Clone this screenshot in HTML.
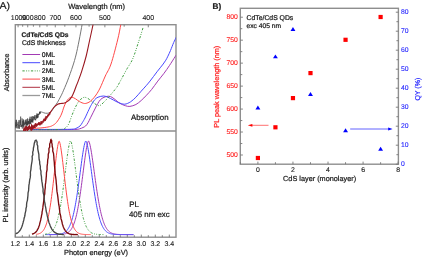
<!DOCTYPE html>
<html><head><meta charset="utf-8"><style>
html,body{margin:0;padding:0;background:#fff;width:423px;height:257px;overflow:hidden}
svg{display:block;font-family:"Liberation Sans",sans-serif;will-change:transform;text-rendering:geometricPrecision}
</style></head><body>
<svg width="423" height="257" viewBox="0 0 423 257">
<defs><clipPath id="ca"><rect x="15.3" y="24.7" width="160.7" height="106.3"/></clipPath>
<clipPath id="cp"><rect x="15.3" y="131.0" width="160.7" height="106.2"/></clipPath></defs>
<rect width="423" height="257" fill="#fff"/>
<g fill="none" stroke="#8e8e8e" stroke-width="1.4">
<rect x="15.3" y="24.7" width="160.7" height="212.5"/>
<line x1="15.3" y1="131.0" x2="176.0" y2="131.0" stroke-width="1.6"/>
</g>
<path d="M15.30,237.20V234.60M22.30,237.20V235.20M29.30,237.20V234.60M36.30,237.20V235.20M43.30,237.20V234.60M50.30,237.20V235.20M57.30,237.20V234.60M64.30,237.20V235.20M71.30,237.20V234.60M78.30,237.20V235.20M85.30,237.20V234.60M92.30,237.20V235.20M99.30,237.20V234.60M106.30,237.20V235.20M113.30,237.20V234.60M120.30,237.20V235.20M127.30,237.20V234.60M134.30,237.20V235.20M141.30,237.20V234.60M148.30,237.20V235.20M155.30,237.20V234.60M162.30,237.20V235.20M169.30,237.20V234.60M148.27,24.70V27.30M124.16,24.70V26.70M104.88,24.70V27.30M89.10,24.70V26.70M75.95,24.70V27.30M64.82,24.70V26.70M55.28,24.70V27.30M47.02,24.70V26.70M39.79,24.70V27.30M33.40,24.70V26.70M27.73,24.70V27.30M22.66,24.70V26.70M18.09,24.70V27.30" stroke="#777" stroke-width="0.9" fill="none"/>
<g clip-path="url(#ca)" fill="none" stroke-width="1" stroke-linejoin="round">
<path d="M30.00,129.60 C35.00,129.60 52.33,129.63 60.00,129.60 C67.67,129.57 72.67,129.55 76.00,129.40 C79.33,129.25 78.83,129.02 80.00,128.70 C81.17,128.38 82.07,127.95 83.00,127.50 C83.93,127.05 84.77,126.78 85.60,126.00 C86.43,125.22 87.18,124.17 88.00,122.80 C88.82,121.43 89.67,119.47 90.50,117.80 C91.33,116.13 92.18,114.43 93.00,112.80 C93.82,111.17 94.60,109.55 95.40,108.00 C96.20,106.45 96.98,104.87 97.80,103.50 C98.62,102.13 99.27,100.83 100.30,99.80 C101.33,98.77 102.63,97.90 104.00,97.30 C105.37,96.70 107.17,96.20 108.50,96.20 C109.83,96.20 110.75,96.62 112.00,97.30 C113.25,97.98 114.67,99.28 116.00,100.30 C117.33,101.32 118.45,102.50 120.00,103.40 C121.55,104.30 123.65,105.20 125.30,105.70 C126.95,106.20 128.13,106.60 129.90,106.40 C131.67,106.20 134.02,105.48 135.90,104.50 C137.78,103.52 139.43,102.05 141.20,100.50 C142.97,98.95 144.77,97.03 146.50,95.20 C148.23,93.37 149.72,91.85 151.60,89.50 C153.48,87.15 155.73,83.80 157.80,81.10 C159.87,78.40 162.07,75.88 164.00,73.30 C165.93,70.72 167.58,68.32 169.40,65.60 C171.22,62.88 173.80,58.72 174.90,57.00 C176.00,55.28 175.57,55.97 176.00,55.30 C176.43,54.63 177.25,53.38 177.50,53.00" stroke="#a23ab4"/>
<path d="M30.00,129.40 C35.00,129.40 53.00,129.43 60.00,129.40 C67.00,129.37 69.33,129.37 72.00,129.20 C74.67,129.03 74.67,128.93 76.00,128.40 C77.33,127.87 78.95,126.95 80.00,126.00 C81.05,125.05 81.47,124.03 82.30,122.70 C83.13,121.37 83.90,120.18 85.00,118.00 C86.10,115.82 87.82,111.85 88.90,109.60 C89.98,107.35 90.55,106.13 91.50,104.50 C92.45,102.87 93.52,101.02 94.60,99.80 C95.68,98.58 96.50,97.83 98.00,97.20 C99.50,96.57 101.93,95.98 103.60,96.00 C105.27,96.02 106.37,96.63 108.00,97.30 C109.63,97.97 111.65,99.12 113.40,100.00 C115.15,100.88 116.63,101.90 118.50,102.60 C120.37,103.30 122.58,104.33 124.60,104.20 C126.62,104.07 128.72,102.97 130.60,101.80 C132.48,100.63 134.13,98.97 135.90,97.20 C137.67,95.43 139.43,93.18 141.20,91.20 C142.97,89.22 145.03,86.98 146.50,85.30 C147.97,83.62 148.83,82.57 150.00,81.10 C151.17,79.63 152.33,78.05 153.50,76.50 C154.67,74.95 155.88,73.25 157.00,71.80 C158.12,70.35 159.17,69.10 160.20,67.80 C161.23,66.50 162.27,65.27 163.20,64.00 C164.13,62.73 165.02,61.50 165.80,60.20 C166.58,58.90 167.12,57.82 167.90,56.20 C168.68,54.58 169.53,52.78 170.50,50.50 C171.47,48.22 172.78,44.62 173.70,42.50 C174.62,40.38 175.37,39.05 176.00,37.80 C176.63,36.55 177.25,35.47 177.50,35.00" stroke="#4848ff"/>
<path d="M30.00,129.60 C33.33,129.60 44.67,129.63 50.00,129.60 C55.33,129.57 59.58,129.57 62.00,129.40 C64.42,129.23 63.67,129.08 64.50,128.60 C65.33,128.12 66.20,127.48 67.00,126.50 C67.80,125.52 68.55,124.37 69.30,122.70 C70.05,121.03 70.62,118.78 71.50,116.50 C72.38,114.22 73.48,111.40 74.60,109.00 C75.72,106.60 77.12,103.77 78.20,102.10 C79.28,100.43 80.08,99.80 81.10,99.00 C82.12,98.20 83.15,97.38 84.30,97.30 C85.45,97.22 86.72,97.80 88.00,98.50 C89.28,99.20 90.67,100.50 92.00,101.50 C93.33,102.50 94.72,103.82 96.00,104.50 C97.28,105.18 98.37,106.02 99.70,105.60 C101.03,105.18 102.37,103.58 104.00,102.00 C105.63,100.42 107.62,98.23 109.50,96.10 C111.38,93.97 113.95,90.88 115.30,89.20 C116.65,87.52 116.62,87.62 117.60,86.00 C118.58,84.38 119.63,82.37 121.20,79.50 C122.77,76.63 125.23,71.92 127.00,68.80 C128.77,65.68 130.47,63.47 131.80,60.80 C133.13,58.13 134.00,55.57 135.00,52.80 C136.00,50.03 136.87,47.05 137.80,44.20 C138.73,41.35 139.70,38.55 140.60,35.70 C141.50,32.85 142.77,28.53 143.20,27.10" stroke="#3c9c3c" stroke-dasharray="2.3,1.5,0.9,1.3,0.9,1.6"/>
<path d="M26.00,129.00 C27.17,128.90 30.67,128.57 33.00,128.40 C35.33,128.23 37.50,128.23 40.00,128.00 C42.50,127.77 45.93,127.40 48.00,127.00 C50.07,126.60 51.00,126.35 52.40,125.60 C53.80,124.85 54.97,124.23 56.40,122.50 C57.83,120.77 59.68,117.95 61.00,115.20 C62.32,112.45 63.25,108.50 64.30,106.00 C65.35,103.50 66.40,101.55 67.30,100.20 C68.20,98.85 68.92,98.40 69.70,97.90 C70.48,97.40 71.03,97.05 72.00,97.20 C72.97,97.35 74.25,98.07 75.50,98.80 C76.75,99.53 77.98,100.82 79.50,101.60 C81.02,102.38 83.02,103.40 84.60,103.50 C86.18,103.60 87.77,102.82 89.00,102.20 C90.23,101.58 90.83,101.00 92.00,99.80 C93.17,98.60 94.65,96.97 96.00,95.00 C97.35,93.03 98.55,91.17 100.10,88.00 C101.65,84.83 103.48,80.00 105.30,76.00 C107.12,72.00 108.95,70.00 111.00,64.00 C113.05,58.00 115.97,46.58 117.60,40.00 C119.23,33.42 120.12,28.00 120.80,24.50 C121.48,21.00 121.55,19.92 121.70,19.00" stroke="#ff4848"/>
<path d="M15.53,124.43 L15.49,126.72 L15.57,122.38 L15.75,124.51 L15.76,128.24 L15.87,125.86 L15.98,120.09 L16.12,127.64 L16.31,119.97 L16.40,119.79 L16.63,125.91 L16.65,124.84 L16.80,125.87 L17.04,126.10 L17.16,126.56 L17.26,128.45 L17.35,123.80 L17.54,124.48 L17.72,123.43 L17.93,121.87 L18.14,122.28 L18.28,125.41 L18.41,124.79 L18.65,128.53 L18.83,124.26 L18.82,122.09 L18.99,120.11 L19.22,126.96 L19.44,128.76 L19.56,125.49 L19.74,126.22 L19.87,122.50 L20.07,121.40 L20.22,122.68 L20.18,119.87 L20.44,124.93 L20.60,118.48 L20.63,116.59 L20.71,120.76 L20.93,127.02 L20.99,124.79 L21.27,125.32 L21.33,125.54 L21.57,125.60 L21.64,126.79 L21.85,125.48 L21.86,126.38 L22.03,118.39 L22.28,119.85 L22.26,128.58 L22.42,124.69 L22.61,125.63 L22.65,121.66 L22.88,122.37 L23.12,120.93 L23.21,126.38 L23.35,119.36 L23.37,123.06 L23.67,127.64 L23.80,120.30 L23.80,120.98 L24.05,125.20 L24.10,124.29 L24.23,123.64 L24.34,122.66 L24.51,123.94 L24.63,125.30 L24.94,124.67 L24.95,121.78 L25.10,121.90 L25.33,121.96 L25.49,123.95 L25.44,119.69 L25.58,123.45 L25.86,121.55 L25.85,124.47 L26.06,129.23 L26.11,123.55 L26.32,121.94 L26.54,122.33 L26.53,125.11 L26.68,119.33 L26.85,124.57 L27.03,126.15 L27.17,121.37 L27.33,123.78 L27.43,124.89 L27.55,118.45 L27.60,122.47 L27.67,124.94 L27.85,123.88 L28.06,122.22 L28.25,124.35 L28.39,121.06 L28.37,123.88 L28.50,121.02 L28.71,122.12 L28.90,123.02 L28.98,122.90 L29.14,119.22 L29.29,124.24 L29.40,122.98 L29.41,121.25 L29.66,118.66 L29.83,119.17 L29.85,124.46 L30.04,116.74 L30.06,123.95 L30.33,121.73 L30.44,121.68 L30.61,123.13 L30.67,123.78 L30.70,119.11 L30.80,122.64 L31.04,123.38 L31.25,119.92 L31.36,116.71 L31.37,121.92 L31.51,120.23 L31.71,121.79 L31.76,120.00 L32.04,122.01 L32.11,118.73 L32.31,121.54 L32.36,116.26 L32.50,121.72 L32.61,119.37 L32.69,119.59 L32.82,122.72 L33.01,119.58 L33.11,119.09 L33.28,117.22 L33.32,116.52 L33.54,118.23 L33.70,119.17 L33.77,120.40 L33.97,116.49 L34.00,117.92 L34.13,117.44 L34.28,117.59 L34.35,116.90 L34.56,119.22 L34.67,117.61 L34.64,115.59 L34.86,115.12 L34.83,117.08 L34.91,119.44 L35.08,119.28 L35.32,120.01 L35.46,118.94 L35.54,119.17 L35.55,119.62 L35.68,120.36 L35.94,115.28 L36.06,116.31 L36.13,118.35 L36.17,118.08 L36.24,118.41 L36.42,117.53 L36.37,118.09 L36.47,115.70 L36.63,116.42 L36.67,115.73 L36.95,115.65 L36.86,117.32 L36.98,113.42 L37.07,118.32 L37.13,116.75 L37.36,113.94 L37.33,117.22 L37.48,117.43 L37.60,117.84 L37.68,116.05 L37.72,115.83 L37.85,117.78 L37.97,116.50 L37.91,117.07 L38.16,116.21 L38.19,114.19 L38.35,115.22 L38.36,114.77 L38.40,115.21 L38.45,115.01 L38.57,114.80 L38.77,114.00 L38.77,114.90 L38.87,113.46 L38.90,113.89 L39.13,113.75 L39.18,113.76 L39.35,113.83 L39.27,114.23 L39.43,113.57 L39.58,112.26 L39.63,112.17 L39.77,113.39 L39.79,111.84 L39.85,113.78 L39.81,111.83 L39.89,112.71 L39.98,113.32 L40.03,112.62 L40.23,113.22 L40.25,112.61 L40.22,111.71 L40.31,112.26 L40.31,112.09 L40.49,112.24" stroke="#3c3c3c" stroke-width="0.6"/>
<path d="M40.40,111.60 C40.75,111.72 41.68,112.03 42.50,112.30 C43.32,112.57 44.22,113.08 45.30,113.20 C46.38,113.32 47.97,113.33 49.00,113.00 C50.03,112.67 50.55,112.28 51.50,111.20 C52.45,110.12 53.70,107.98 54.70,106.50 C55.70,105.02 56.55,103.88 57.50,102.30 C58.45,100.72 59.55,98.63 60.40,97.00 C61.25,95.37 61.42,95.18 62.60,92.50 C63.78,89.82 65.80,85.32 67.50,80.90 C69.20,76.48 71.38,70.32 72.80,66.00 C74.22,61.68 74.97,59.17 76.00,55.00 C77.03,50.83 77.97,46.17 79.00,41.00 C80.03,35.83 81.53,27.67 82.20,24.00 C82.87,20.33 82.87,19.83 83.00,19.00" stroke="#767676"/>
<path d="M23.45,131.88 L23.67,129.65 L23.57,129.43 L23.75,131.25 L23.82,128.14 L23.99,130.15 L24.03,131.01 L24.22,129.85 L24.33,130.08 L24.45,129.82 L24.70,128.15 L24.83,128.74 L24.93,128.99 L25.08,126.67 L25.32,130.37 L25.47,129.43 L25.69,132.09 L25.81,130.16 L25.89,129.11 L26.14,126.76 L26.38,126.61 L26.57,129.16 L26.72,126.65 L26.90,127.67 L26.97,129.14 L27.20,129.39 L27.43,131.04 L27.62,130.53 L27.78,127.47 L27.86,127.40 L28.14,129.45 L28.32,126.64 L28.53,128.43 L28.61,128.24 L28.87,129.51 L28.93,129.00 L29.14,128.27 L29.28,124.94 L29.51,126.47 L29.62,128.60 L29.67,127.98 L29.82,127.85 L30.01,128.15 L30.09,127.06 L30.39,128.97 L30.56,128.35 L30.68,127.45 L30.83,126.93 L31.06,127.17 L31.06,127.82 L31.16,130.43 L31.37,127.16 L31.50,128.81 L31.59,124.55 L31.70,128.03 L31.90,130.01 L32.09,128.07 L32.05,128.20 L32.32,127.60 L32.41,125.67 L32.49,127.14 L32.52,129.22 L32.74,128.02 L32.84,126.63 L32.99,127.18 L33.24,127.24 L33.39,128.23 L33.40,126.28 L33.72,127.75 L33.78,125.31 L34.10,125.24 L34.14,126.73 L34.20,125.15 L34.28,126.71 L34.46,127.42 L34.72,126.93 L34.78,125.66 L34.85,126.44 L35.13,123.69 L35.26,127.37 L35.43,123.86 L35.50,123.69 L35.68,125.25 L35.78,124.94 L35.90,125.22 L36.01,123.68 L36.25,125.55 L36.38,124.79 L36.66,124.48 L36.67,126.45 L36.89,124.38 L37.02,124.09 L37.14,125.01 L37.44,125.15 L37.60,123.92 L37.78,124.54 L37.78,123.97 L37.92,124.56 L38.10,124.12 L38.27,124.61 L38.52,122.46 L38.61,123.33 L38.76,123.12 L38.90,124.57 L39.18,124.61 L39.16,124.14 L39.46,122.55 L39.48,123.70 L39.66,123.57 L39.81,124.23 L40.04,125.11 L40.01,122.96 L40.32,124.66 L40.36,123.55 L40.48,123.19 L40.73,123.10 L40.88,123.77 L40.87,121.49 L41.07,123.21 L41.24,123.05 L41.36,123.86 L41.52,122.11 L41.50,121.50 L41.78,122.65 L41.88,122.48 L41.94,123.94 L42.13,122.51 L42.27,122.43 L42.36,122.13 L42.49,122.00 L42.62,121.30 L42.62,121.96 L42.93,121.25 L42.98,122.19 L43.02,121.93 L43.14,120.65 L43.27,122.20 L43.33,120.71 L43.52,119.81 L43.61,120.78 L43.72,119.86 L43.79,119.16 L44.04,120.05 L44.06,120.94 L44.23,120.54 L44.29,119.02 L44.53,120.55 L44.53,119.74 L44.66,119.94 L44.91,120.72 L44.88,119.06 L45.04,119.37 L45.11,118.42 L45.28,117.74 L45.33,119.39 L45.41,120.56 L45.68,119.35 L45.79,118.88 L45.90,118.28 L45.89,116.25 L46.08,118.83 L46.05,119.45 L46.23,117.69 L46.33,117.35 L46.43,117.74 L46.56,117.61 L46.80,117.72 L46.76,117.20 L47.00,116.46 L47.03,117.83 L47.14,117.46 L47.36,116.89 L47.47,116.73 L47.41,116.89 L47.67,115.38 L47.64,116.63 L47.92,116.13 L47.90,115.84 L48.03,115.63 L48.12,114.36 L48.23,116.06 L48.42,115.02 L48.38,114.90 L48.64,115.31 L48.78,115.42 L48.69,114.29 L48.97,114.58 L49.07,114.96 L49.05,113.98 L49.16,114.39 L49.31,114.30 L49.38,113.77 L49.43,114.16 L49.46,112.94 L49.62,113.39 L49.55,113.89 L49.66,113.65 L49.69,114.04 L49.80,113.80 L49.99,113.26 L49.90,114.09 L49.92,112.09" stroke="#9a1820" stroke-width="1.1"/>
<path d="M50.00,113.00 C50.62,112.08 52.42,108.95 53.70,107.50 C54.98,106.05 56.53,104.97 57.70,104.30 C58.87,103.63 59.57,103.72 60.70,103.50 C61.83,103.28 63.23,103.43 64.50,103.00 C65.77,102.57 67.33,101.60 68.30,100.90 C69.27,100.20 69.65,99.62 70.30,98.80 C70.95,97.98 71.53,97.25 72.20,96.00 C72.87,94.75 73.63,92.97 74.30,91.30 C74.97,89.63 75.63,87.48 76.20,86.00 C76.77,84.52 76.80,84.80 77.70,82.40 C78.60,80.00 80.18,76.00 81.60,71.60 C83.02,67.20 84.85,61.27 86.20,56.00 C87.55,50.73 88.53,45.33 89.70,40.00 C90.87,34.67 92.48,27.50 93.20,24.00 C93.92,20.50 93.87,19.83 94.00,19.00" stroke="#9a1820" stroke-width="1.1"/>
</g>
<g clip-path="url(#cp)" fill="none" stroke-width="1" stroke-linejoin="round">
<path d="M49.00,234.60 L49.40,234.60 L49.80,234.60 L50.20,234.60 L50.60,234.60 L51.00,234.60 L51.40,234.60 L51.80,234.60 L52.20,234.60 L52.60,234.59 L53.00,234.59 L53.40,234.59 L53.80,234.59 L54.20,234.59 L54.60,234.59 L55.00,234.58 L55.40,234.58 L55.80,234.58 L56.20,234.57 L56.60,234.57 L57.00,234.56 L57.40,234.56 L57.80,234.55 L58.20,234.54 L58.60,234.53 L59.00,234.51 L59.40,234.50 L59.80,234.48 L60.20,234.46 L60.60,234.44 L61.00,234.41 L61.40,234.38 L61.80,234.35 L62.20,234.31 L62.60,234.26 L63.00,234.21 L63.40,234.15 L63.80,234.09 L64.20,234.01 L64.60,233.92 L65.00,233.82 L65.40,233.71 L65.80,233.58 L66.20,233.44 L66.60,233.27 L67.00,233.09 L67.40,232.89 L67.80,232.66 L68.20,232.40 L68.60,232.11 L69.00,231.79 L69.40,231.44 L69.80,231.04 L70.20,230.60 L70.60,230.12 L71.00,229.58 L71.40,229.00 L71.80,228.35 L72.20,227.64 L72.60,226.87 L73.00,226.02 L73.40,225.10 L73.80,224.10 L74.20,223.01 L74.60,221.83 L75.00,220.56 L75.40,219.19 L75.80,217.73 L76.20,216.15 L76.60,214.47 L77.00,212.68 L77.40,210.77 L77.80,208.75 L78.20,206.62 L78.60,204.37 L79.00,202.01 L79.40,199.54 L79.80,196.96 L80.20,194.27 L80.60,191.49 L81.00,188.62 L81.40,185.68 L81.80,182.66 L82.20,179.58 L82.60,176.46 L83.00,173.32 L83.40,170.16 L83.80,167.02 L84.20,163.91 L84.60,160.86 L85.00,157.90 L85.40,155.04 L85.80,152.33 L86.20,149.80 L86.60,147.48 L87.00,145.42 L87.40,143.66 L87.80,142.26 L88.20,141.31 L88.60,141.04 L89.00,141.64 L89.40,142.69 L89.80,144.10 L90.20,145.81 L90.60,147.77 L91.00,149.94 L91.40,152.30 L91.80,154.81 L92.20,157.45 L92.60,160.19 L93.00,163.01 L93.40,165.88 L93.80,168.79 L94.20,171.72 L94.60,174.65 L95.00,177.56 L95.40,180.45 L95.80,183.29 L96.20,186.09 L96.60,188.82 L97.00,191.49 L97.40,194.07 L97.80,196.58 L98.20,198.99 L98.60,201.32 L99.00,203.54 L99.40,205.68 L99.80,207.71 L100.20,209.64 L100.60,211.47 L101.00,213.21 L101.40,214.85 L101.80,216.39 L102.20,217.84 L102.60,219.21 L103.00,220.48 L103.40,221.67 L103.80,222.78 L104.20,223.80 L104.60,224.76 L105.00,225.65 L105.40,226.46 L105.80,227.22 L106.20,227.91 L106.60,228.55 L107.00,229.14 L107.40,229.67 L107.80,230.16 L108.20,230.61 L108.60,231.02 L109.00,231.39 L109.40,231.72 L109.80,232.03 L110.20,232.31 L110.60,232.55 L111.00,232.78 L111.40,232.98 L111.80,233.16 L112.20,233.33 L112.60,233.47 L113.00,233.60 L113.40,233.72 L113.80,233.82 L114.20,233.92 L114.60,234.00 L115.00,234.07 L115.40,234.14 L115.80,234.19 L116.20,234.25 L116.60,234.29 L117.00,234.33 L117.40,234.36 L117.80,234.39 L118.20,234.42 L118.60,234.45 L119.00,234.47 L119.40,234.48 L119.80,234.50 L120.20,234.51 L120.60,234.53 L121.00,234.54 L121.40,234.54 L121.80,234.55 L122.20,234.56 L122.60,234.56 L123.00,234.57 L123.40,234.57 L123.80,234.58 L124.20,234.58 L124.60,234.58 L125.00,234.59 L125.40,234.59 L125.80,234.59 L126.20,234.59 L126.60,234.59 L127.00,234.59 L127.40,234.59 L127.80,234.60 L128.20,234.60 L128.60,234.60 L129.00,234.60 L129.40,234.60 L129.80,234.60 L130.20,234.60 L130.60,234.60 L131.00,234.60 L131.40,234.60 L131.80,234.60 L132.20,234.60 L132.60,234.60 L133.00,234.60 L133.40,234.60" stroke="#a23ab4"/>
<path d="M45.00,234.60 L45.40,234.60 L45.80,234.60 L46.20,234.60 L46.60,234.60 L47.00,234.60 L47.40,234.60 L47.80,234.60 L48.20,234.59 L48.60,234.59 L49.00,234.59 L49.40,234.59 L49.80,234.59 L50.20,234.59 L50.60,234.59 L51.00,234.58 L51.40,234.58 L51.80,234.58 L52.20,234.57 L52.60,234.57 L53.00,234.56 L53.40,234.55 L53.80,234.55 L54.20,234.54 L54.60,234.53 L55.00,234.52 L55.40,234.50 L55.80,234.49 L56.20,234.47 L56.60,234.45 L57.00,234.42 L57.40,234.39 L57.80,234.36 L58.20,234.33 L58.60,234.28 L59.00,234.24 L59.40,234.18 L59.80,234.12 L60.20,234.05 L60.60,233.98 L61.00,233.89 L61.40,233.79 L61.80,233.68 L62.20,233.55 L62.60,233.41 L63.00,233.25 L63.40,233.07 L63.80,232.88 L64.20,232.66 L64.60,232.41 L65.00,232.14 L65.40,231.83 L65.80,231.50 L66.20,231.13 L66.60,230.72 L67.00,230.26 L67.40,229.77 L67.80,229.22 L68.20,228.63 L68.60,227.97 L69.00,227.26 L69.40,226.49 L69.80,225.65 L70.20,224.73 L70.60,223.74 L71.00,222.67 L71.40,221.52 L71.80,220.29 L72.20,218.96 L72.60,217.54 L73.00,216.02 L73.40,214.40 L73.80,212.68 L74.20,210.86 L74.60,208.93 L75.00,206.89 L75.40,204.76 L75.80,202.51 L76.20,200.17 L76.60,197.72 L77.00,195.18 L77.40,192.55 L77.80,189.83 L78.20,187.04 L78.60,184.17 L79.00,181.25 L79.40,178.29 L79.80,175.28 L80.20,172.27 L80.60,169.25 L81.00,166.24 L81.40,163.27 L81.80,160.36 L82.20,157.53 L82.60,154.81 L83.00,152.23 L83.40,149.80 L83.80,147.57 L84.20,145.58 L84.60,143.86 L85.00,142.46 L85.40,141.46 L85.80,141.00 L86.20,141.45 L86.60,142.42 L87.00,143.76 L87.40,145.43 L87.80,147.36 L88.20,149.52 L88.60,151.87 L89.00,154.38 L89.40,157.03 L89.80,159.78 L90.20,162.61 L90.60,165.51 L91.00,168.45 L91.40,171.40 L91.80,174.36 L92.20,177.31 L92.60,180.23 L93.00,183.11 L93.40,185.93 L93.80,188.70 L94.20,191.39 L94.60,194.01 L95.00,196.54 L95.40,198.98 L95.80,201.33 L96.20,203.58 L96.60,205.73 L97.00,207.78 L97.40,209.73 L97.80,211.57 L98.20,213.32 L98.60,214.97 L99.00,216.52 L99.40,217.98 L99.80,219.35 L100.20,220.62 L100.60,221.81 L101.00,222.92 L101.40,223.95 L101.80,224.91 L102.20,225.79 L102.60,226.60 L103.00,227.35 L103.40,228.04 L103.80,228.68 L104.20,229.26 L104.60,229.79 L105.00,230.27 L105.40,230.72 L105.80,231.12 L106.20,231.48 L106.60,231.81 L107.00,232.11 L107.40,232.38 L107.80,232.63 L108.20,232.85 L108.60,233.04 L109.00,233.22 L109.40,233.38 L109.80,233.52 L110.20,233.65 L110.60,233.76 L111.00,233.86 L111.40,233.95 L111.80,234.03 L112.20,234.10 L112.60,234.16 L113.00,234.22 L113.40,234.27 L113.80,234.31 L114.20,234.35 L114.60,234.38 L115.00,234.41 L115.40,234.43 L115.80,234.46 L116.20,234.48 L116.60,234.49 L117.00,234.51 L117.40,234.52 L117.80,234.53 L118.20,234.54 L118.60,234.55 L119.00,234.56 L119.40,234.56 L119.80,234.57 L120.20,234.57 L120.60,234.58 L121.00,234.58 L121.40,234.58 L121.80,234.59 L122.20,234.59 L122.60,234.59 L123.00,234.59 L123.40,234.59 L123.80,234.59 L124.20,234.59 L124.60,234.60 L125.00,234.60 L125.40,234.60 L125.80,234.60 L126.20,234.60 L126.60,234.60 L127.00,234.60 L127.40,234.60 L127.80,234.60 L128.20,234.60 L128.60,234.60 L129.00,234.60 L129.40,234.60 L129.80,234.60 L130.20,234.60 L130.60,234.60 L131.00,234.60 L131.40,234.60 L131.80,234.60 L132.20,234.60 L132.60,234.60 L133.00,234.60 L133.40,234.60" stroke="#4848ff"/>
<path d="M45.00,234.28 L45.40,234.23 L45.80,234.18 L46.20,234.11 L46.60,234.03 L47.00,233.95 L47.40,233.85 L47.80,233.74 L48.20,233.61 L48.60,233.47 L49.00,233.30 L49.40,233.12 L49.80,232.91 L50.20,232.68 L50.60,232.42 L51.00,232.13 L51.40,231.81 L51.80,231.44 L52.20,231.04 L52.60,230.59 L53.00,230.09 L53.40,229.55 L53.80,228.94 L54.20,228.27 L54.60,227.54 L55.00,226.74 L55.40,225.86 L55.80,224.90 L56.20,223.86 L56.60,222.72 L57.00,221.50 L57.40,220.17 L57.80,218.74 L58.20,217.20 L58.60,215.55 L59.00,213.79 L59.40,211.91 L59.80,209.92 L60.20,207.80 L60.60,205.56 L61.00,203.20 L61.40,200.73 L61.80,198.14 L62.20,195.44 L62.60,192.64 L63.00,189.74 L63.40,186.75 L63.80,183.68 L64.20,180.55 L64.60,177.37 L65.00,174.15 L65.40,170.92 L65.80,167.70 L66.20,164.50 L66.60,161.36 L67.00,158.30 L67.40,155.36 L67.80,152.56 L68.20,149.93 L68.60,147.53 L69.00,145.39 L69.40,143.56 L69.80,142.11 L70.20,141.12 L70.60,140.85 L71.00,141.52 L71.40,142.71 L71.80,144.31 L72.20,146.23 L72.60,148.43 L73.00,150.87 L73.40,153.50 L73.80,156.29 L74.20,159.21 L74.60,162.23 L75.00,165.31 L75.40,168.45 L75.80,171.61 L76.20,174.76 L76.60,177.90 L77.00,181.01 L77.40,184.07 L77.80,187.06 L78.20,189.98 L78.60,192.81 L79.00,195.55 L79.40,198.18 L79.80,200.72 L80.20,203.14 L80.60,205.45 L81.00,207.64 L81.40,209.73 L81.80,211.69 L82.20,213.54 L82.60,215.28 L83.00,216.92 L83.40,218.44 L83.80,219.86 L84.20,221.18 L84.60,222.41 L85.00,223.54 L85.40,224.59 L85.80,225.55 L86.20,226.44 L86.60,227.25 L87.00,227.99 L87.40,228.67 L87.80,229.29 L88.20,229.85 L88.60,230.36 L89.00,230.82 L89.40,231.24 L89.80,231.61 L90.20,231.95 L90.60,232.25 L91.00,232.53 L91.40,232.77 L91.80,232.99 L92.20,233.18 L92.60,233.35 L93.00,233.51 L93.40,233.64 L93.80,233.76 L94.20,233.87 L94.60,233.96 L95.00,234.05 L95.40,234.12 L95.80,234.18 L96.20,234.24 L96.60,234.29 L97.00,234.33 L97.40,234.37 L97.80,234.40 L98.20,234.43 L98.60,234.45 L99.00,234.47 L99.40,234.49 L99.80,234.51 L100.20,234.52 L100.60,234.53 L101.00,234.54 L101.40,234.55 L101.80,234.56 L102.20,234.56 L102.60,234.57 L103.00,234.57 L103.40,234.58 L103.80,234.58" stroke="#3c9c3c" stroke-dasharray="2.3,1.5,0.9,1.3,0.9,1.6"/>
<path d="M36.00,234.34 L36.40,234.29 L36.80,234.23 L37.20,234.17 L37.60,234.09 L38.00,234.00 L38.40,233.90 L38.80,233.78 L39.20,233.64 L39.60,233.48 L40.00,233.30 L40.40,233.10 L40.80,232.86 L41.20,232.59 L41.60,232.28 L42.00,231.93 L42.40,231.54 L42.80,231.09 L43.20,230.59 L43.60,230.03 L44.00,229.40 L44.40,228.70 L44.80,227.92 L45.20,227.05 L45.60,226.09 L46.00,225.03 L46.40,223.87 L46.80,222.59 L47.20,221.19 L47.60,219.66 L48.00,218.01 L48.40,216.21 L48.80,214.27 L49.20,212.19 L49.60,209.96 L50.00,207.57 L50.40,205.04 L50.80,202.35 L51.20,199.52 L51.60,196.54 L52.00,193.43 L52.40,190.20 L52.80,186.86 L53.20,183.41 L53.60,179.89 L54.00,176.31 L54.40,172.70 L54.80,169.08 L55.20,165.49 L55.60,161.96 L56.00,158.54 L56.40,155.25 L56.80,152.15 L57.20,149.29 L57.60,146.73 L58.00,144.54 L58.40,142.78 L58.80,141.59 L59.20,141.26 L59.60,142.05 L60.00,143.46 L60.40,145.33 L60.80,147.58 L61.20,150.15 L61.60,152.98 L62.00,156.02 L62.40,159.22 L62.80,162.54 L63.20,165.96 L63.60,169.42 L64.00,172.91 L64.40,176.39 L64.80,179.84 L65.20,183.23 L65.60,186.56 L66.00,189.79 L66.40,192.93 L66.80,195.95 L67.20,198.84 L67.60,201.61 L68.00,204.24 L68.40,206.73 L68.80,209.08 L69.20,211.29 L69.60,213.36 L70.00,215.29 L70.40,217.09 L70.80,218.76 L71.20,220.30 L71.60,221.72 L72.00,223.03 L72.40,224.23 L72.80,225.32 L73.20,226.32 L73.60,227.22 L74.00,228.05 L74.40,228.79 L74.80,229.46 L75.20,230.06 L75.60,230.60 L76.00,231.08 L76.40,231.51 L76.80,231.90 L77.20,232.24 L77.60,232.54 L78.00,232.81 L78.40,233.04 L78.80,233.25 L79.20,233.43 L79.60,233.59 L80.00,233.73 L80.40,233.85 L80.80,233.96 L81.20,234.05 L81.60,234.13 L82.00,234.20 L82.40,234.26 L82.80,234.31 L83.20,234.35 L83.60,234.39 L84.00,234.42 L84.40,234.45 L84.80,234.47 L85.20,234.49 L85.60,234.51 L86.00,234.52 L86.40,234.54 L86.80,234.55 L87.20,234.56 L87.60,234.56 L88.00,234.57 L88.40,234.57 L88.80,234.58 L89.20,234.58 L89.60,234.59 L90.00,234.59 L90.40,234.59 L90.80,234.59" stroke="#ff4848"/>
<path d="M31.94,234.10 L32.33,234.02 L32.56,233.92 L32.92,233.89 L33.24,233.83 L33.52,233.53 L33.85,233.43 L34.11,233.30 L34.44,233.08 L34.66,232.90 L34.95,232.84 L35.31,232.46 L35.58,232.36 L35.90,231.86 L36.25,231.63 L36.58,231.11 L36.80,230.89 L37.16,230.46 L37.32,229.79 L37.63,229.20 L38.08,228.71 L38.38,227.97 L38.67,227.27 L38.85,226.57 L39.29,225.48 L39.52,224.71 L39.74,223.59 L40.02,222.42 L40.35,221.36 L40.73,219.92 L40.89,218.58 L41.34,217.02 L41.55,215.43 L41.98,213.87 L42.08,211.86 L42.47,210.14 L42.84,207.88 L43.00,206.03 L43.37,203.55 L43.64,201.55 L43.93,198.85 L44.25,196.17 L44.74,193.84 L44.85,190.55 L45.29,187.67 L45.29,185.21 L45.77,182.14 L46.06,179.12 L46.38,175.44 L46.46,172.60 L47.07,169.76 L47.08,166.37 L47.53,163.15 L47.70,159.88 L48.21,157.52 L48.26,154.23 L48.99,151.99 L48.91,148.55 L49.69,147.09 L49.69,143.98 L50.28,142.52 L50.57,141.29 L50.82,139.71 L51.10,139.28 L51.13,140.46 L51.72,140.73 L51.61,142.39 L52.11,144.12 L52.16,146.00 L52.84,148.95 L52.72,151.06 L53.46,153.15 L53.80,156.01 L53.96,159.30 L54.27,162.03 L54.46,165.29 L54.76,168.41 L55.07,171.28 L55.17,174.49 L55.70,177.24 L56.12,180.67 L56.28,183.19 L56.59,186.05 L56.75,189.11 L57.04,191.88 L57.50,194.31 L57.85,196.92 L58.18,199.81 L58.40,201.79 L58.70,204.24 L59.14,206.30 L59.40,208.78 L59.67,210.65 L59.82,212.57 L60.20,214.29 L60.60,215.60 L60.87,217.45 L61.00,218.67 L61.46,219.94 L61.79,221.25 L62.07,222.37 L62.30,223.72 L62.54,224.50 L62.90,225.45 L63.11,226.27 L63.44,227.29 L63.83,228.00 L64.04,228.62 L64.33,229.15 L64.72,229.66 L65.06,230.22 L65.31,230.76 L65.54,231.21 L65.92,231.42 L66.25,231.73 L66.58,232.12 L66.78,232.45 L67.09,232.54 L67.44,232.73 L67.75,232.99 L68.02,233.35 L68.31,233.43 L68.57,233.41 L68.83,233.58 L69.22,233.76 L69.50,233.98 L69.75,233.90 L70.12,233.93 L70.33,234.08 L70.64,234.14 L70.96,234.25 L71.31,234.21 L71.62,234.32 L71.85,234.46 L72.16,234.31 L72.44,234.45 L72.85,234.51 L73.09,234.41 L73.33,234.52 L73.71,234.46 L74.02,234.50 L74.36,234.58 L74.56,234.63 L74.83,234.55 L75.19,234.49 L75.44,234.63 L75.73,234.58 L76.16,234.49 L76.36,234.60 L76.70,234.61 L77.05,234.50 L77.27,234.54 L77.53,234.68 L77.94,234.64" stroke-width="1.35" stroke="#7c0a0e"/>
<path d="M15.53,233.91 L15.94,233.71 L16.24,233.59 L16.46,233.37 L16.76,233.20 L17.07,233.21 L17.43,233.05 L17.73,232.70 L18.01,232.52 L18.35,232.29 L18.56,232.04 L18.97,231.62 L19.26,231.22 L19.46,230.91 L19.84,230.69 L20.14,230.07 L20.47,229.58 L20.65,229.21 L21.02,228.56 L21.33,228.02 L21.59,227.29 L21.94,226.55 L22.19,225.70 L22.51,224.69 L22.74,223.86 L23.01,222.95 L23.32,221.55 L23.61,220.73 L23.96,219.20 L24.19,217.84 L24.65,216.68 L24.95,215.24 L25.09,213.61 L25.46,212.06 L25.89,210.36 L25.97,208.53 L26.53,206.66 L26.58,204.27 L26.87,202.08 L27.42,200.35 L27.65,198.11 L27.95,195.46 L28.05,192.94 L28.60,190.54 L28.73,188.16 L28.90,185.46 L29.30,183.17 L29.64,180.22 L30.22,177.68 L30.47,175.07 L30.37,172.20 L30.87,169.82 L31.12,167.09 L31.52,164.01 L32.00,161.29 L32.28,158.83 L32.11,156.41 L32.86,154.83 L32.70,152.10 L33.29,150.31 L33.40,148.03 L33.80,146.59 L34.04,145.10 L34.36,142.88 L34.93,142.01 L34.84,141.22 L35.11,140.72 L35.83,140.36 L36.09,140.01 L36.23,140.69 L36.86,141.31 L37.16,142.47 L37.01,144.20 L37.76,146.11 L37.72,148.34 L37.93,149.86 L38.42,152.26 L38.85,154.36 L38.91,156.34 L39.10,159.23 L39.69,161.57 L39.72,163.77 L40.35,166.43 L40.31,168.87 L40.99,171.24 L40.95,173.85 L41.50,176.83 L41.54,178.82 L41.89,181.45 L42.31,183.80 L42.53,186.24 L43.09,188.99 L43.04,191.45 L43.35,193.34 L43.98,195.79 L44.18,197.70 L44.30,199.88 L44.57,201.63 L44.96,203.46 L45.27,205.71 L45.66,207.33 L45.94,209.01 L46.10,210.69 L46.47,212.30 L46.91,213.64 L47.12,215.18 L47.38,216.29 L47.75,217.81 L48.06,218.93 L48.38,220.05 L48.63,221.03 L48.86,222.09 L49.12,222.96 L49.56,223.94 L49.83,224.61 L50.09,225.45 L50.42,226.16 L50.73,227.00 L50.94,227.54 L51.35,228.04 L51.60,228.76 L51.82,229.14 L52.14,229.67 L52.57,230.03 L52.73,230.45 L53.11,230.85 L53.40,231.17 L53.75,231.45 L53.99,231.85 L54.25,232.05 L54.58,232.31 L54.84,232.59 L55.18,232.55 L55.47,232.83 L55.73,233.00 L56.09,233.23 L56.38,233.26 L56.66,233.51 L57.07,233.57 L57.26,233.74 L57.58,233.69 L57.85,233.92 L58.25,233.96 L58.50,234.01 L58.76,234.18 L59.08,234.15 L59.45,234.25 L59.70,234.17 L60.01,234.17 L60.35,234.26 L60.65,234.27 L60.88,234.30 L61.19,234.31 L61.43,234.47 L61.77,234.37 L62.07,234.45 L62.39,234.50 L62.72,234.45 L63.06,234.58 L63.24,234.59 L63.66,234.59 L63.85,234.61" stroke-width="1.35" stroke="#454545"/>
</g>
<g font-family='"Liberation Sans", sans-serif' stroke-width="0.22">
<text x="-0.60" y="8.70" font-size="10.00" text-anchor="start" fill="#1a1a1a" stroke="#1a1a1a" font-weight="normal" textLength="10.6" lengthAdjust="spacingAndGlyphs">A)</text>
<text x="96.70" y="8.80" font-size="7.50" text-anchor="middle" fill="#1a1a1a" stroke="#1a1a1a" font-weight="normal">Wavelength (nm)</text>
<text x="27.73" y="20.40" font-size="7.00" text-anchor="middle" fill="#1a1a1a" stroke="#1a1a1a" font-weight="normal" stroke-width="0.12">900</text>
<text x="39.79" y="20.40" font-size="7.00" text-anchor="middle" fill="#1a1a1a" stroke="#1a1a1a" font-weight="normal" stroke-width="0.12">800</text>
<text x="55.28" y="20.40" font-size="7.00" text-anchor="middle" fill="#1a1a1a" stroke="#1a1a1a" font-weight="normal" stroke-width="0.12">700</text>
<text x="75.95" y="20.40" font-size="7.00" text-anchor="middle" fill="#1a1a1a" stroke="#1a1a1a" font-weight="normal" stroke-width="0.12">600</text>
<text x="104.88" y="20.40" font-size="7.00" text-anchor="middle" fill="#1a1a1a" stroke="#1a1a1a" font-weight="normal" stroke-width="0.12">500</text>
<text x="148.27" y="20.40" font-size="7.00" text-anchor="middle" fill="#1a1a1a" stroke="#1a1a1a" font-weight="normal" stroke-width="0.12">400</text>
<text x="18.59" y="20.40" font-size="7.00" text-anchor="middle" fill="#1a1a1a" stroke="#1a1a1a" font-weight="normal" stroke-width="0.12">1000</text>
<text x="15.30" y="245.50" font-size="7.00" text-anchor="middle" fill="#1a1a1a" stroke="#1a1a1a" font-weight="normal" stroke-width="0.12">1.2</text>
<text x="29.30" y="245.50" font-size="7.00" text-anchor="middle" fill="#1a1a1a" stroke="#1a1a1a" font-weight="normal" stroke-width="0.12">1.4</text>
<text x="43.30" y="245.50" font-size="7.00" text-anchor="middle" fill="#1a1a1a" stroke="#1a1a1a" font-weight="normal" stroke-width="0.12">1.6</text>
<text x="57.30" y="245.50" font-size="7.00" text-anchor="middle" fill="#1a1a1a" stroke="#1a1a1a" font-weight="normal" stroke-width="0.12">1.8</text>
<text x="71.30" y="245.50" font-size="7.00" text-anchor="middle" fill="#1a1a1a" stroke="#1a1a1a" font-weight="normal" stroke-width="0.12">2.0</text>
<text x="85.30" y="245.50" font-size="7.00" text-anchor="middle" fill="#1a1a1a" stroke="#1a1a1a" font-weight="normal" stroke-width="0.12">2.2</text>
<text x="99.30" y="245.50" font-size="7.00" text-anchor="middle" fill="#1a1a1a" stroke="#1a1a1a" font-weight="normal" stroke-width="0.12">2.4</text>
<text x="113.30" y="245.50" font-size="7.00" text-anchor="middle" fill="#1a1a1a" stroke="#1a1a1a" font-weight="normal" stroke-width="0.12">2.6</text>
<text x="127.30" y="245.50" font-size="7.00" text-anchor="middle" fill="#1a1a1a" stroke="#1a1a1a" font-weight="normal" stroke-width="0.12">2.8</text>
<text x="141.30" y="245.50" font-size="7.00" text-anchor="middle" fill="#1a1a1a" stroke="#1a1a1a" font-weight="normal" stroke-width="0.12">3.0</text>
<text x="155.30" y="245.50" font-size="7.00" text-anchor="middle" fill="#1a1a1a" stroke="#1a1a1a" font-weight="normal" stroke-width="0.12">3.2</text>
<text x="169.30" y="245.50" font-size="7.00" text-anchor="middle" fill="#1a1a1a" stroke="#1a1a1a" font-weight="normal" stroke-width="0.12">3.4</text>
<text x="96.00" y="254.60" font-size="7.40" text-anchor="middle" fill="#1a1a1a" stroke="#1a1a1a" font-weight="normal">Photon energy (eV)</text>
<text transform="translate(8.5,72.4) rotate(-90)" font-size="7.1" text-anchor="middle" fill="#1a1a1a" stroke="#1a1a1a">Absorbance</text>
<text transform="translate(8.4,185.0) rotate(-90)" font-size="7.35" text-anchor="middle" fill="#1a1a1a" stroke="#1a1a1a">PL intensity (arb. units)</text>
<text x="21.50" y="36.80" font-size="6.70" text-anchor="start" fill="#1a1a1a" stroke="#1a1a1a" font-weight="bold">CdTe/CdS QDs</text>
<text x="21.90" y="45.20" font-size="6.85" text-anchor="start" fill="#1a1a1a" stroke="#1a1a1a" font-weight="normal">CdS thickness</text>
<line x1="22.4" y1="54.50" x2="40.1" y2="54.50" stroke="#a23ab4" stroke-width="1"/>
<text x="41.80" y="57.00" font-size="6.90" text-anchor="start" fill="#1a1a1a" stroke="#1a1a1a" font-weight="normal">0ML</text>
<line x1="22.4" y1="62.70" x2="40.1" y2="62.70" stroke="#4848ff" stroke-width="1"/>
<text x="41.80" y="65.20" font-size="6.90" text-anchor="start" fill="#1a1a1a" stroke="#1a1a1a" font-weight="normal">1ML</text>
<line x1="22.4" y1="70.90" x2="40.1" y2="70.90" stroke="#3c9c3c" stroke-width="1" stroke-dasharray="2.3,1.5,0.9,1.3,0.9,1.6"/>
<text x="41.80" y="73.40" font-size="6.90" text-anchor="start" fill="#1a1a1a" stroke="#1a1a1a" font-weight="normal">2ML</text>
<line x1="22.4" y1="79.10" x2="40.1" y2="79.10" stroke="#ff4848" stroke-width="1"/>
<text x="41.80" y="81.60" font-size="6.90" text-anchor="start" fill="#1a1a1a" stroke="#1a1a1a" font-weight="normal">3ML</text>
<line x1="22.4" y1="87.30" x2="40.1" y2="87.30" stroke="#b03040" stroke-width="1"/>
<text x="41.80" y="89.80" font-size="6.90" text-anchor="start" fill="#1a1a1a" stroke="#1a1a1a" font-weight="normal">5ML</text>
<line x1="22.4" y1="95.50" x2="40.1" y2="95.50" stroke="#9a9a9a" stroke-width="1.3"/>
<text x="41.80" y="98.00" font-size="6.90" text-anchor="start" fill="#1a1a1a" stroke="#1a1a1a" font-weight="normal">7ML</text>
<text x="131.00" y="119.70" font-size="7.85" text-anchor="start" fill="#1a1a1a" stroke="#1a1a1a" font-weight="normal">Absorption</text>
<text x="129.30" y="207.10" font-size="7.90" text-anchor="start" fill="#1a1a1a" stroke="#1a1a1a" font-weight="normal">PL</text>
<text x="128.90" y="216.80" font-size="7.90" text-anchor="start" fill="#1a1a1a" stroke="#1a1a1a" font-weight="normal">405 nm exc</text>
<rect x="240.3" y="8.3" width="158.1" height="155.9" fill="none" stroke="#8e8e8e" stroke-width="1.4"/>
<path d="M240.30,155.00H242.90M240.30,143.52H242.30M240.30,132.03H242.90M240.30,120.55H242.30M240.30,109.07H242.90M240.30,97.59H242.30M240.30,86.11H242.90M240.30,74.62H242.30M240.30,63.14H242.90M240.30,51.66H242.30M240.30,40.17H242.90M240.30,28.69H242.30M240.30,17.21H242.90M398.40,164.20H395.80M398.40,154.70H396.40M398.40,145.20H395.80M398.40,135.70H396.40M398.40,126.20H395.80M398.40,116.70H396.40M398.40,107.20H395.80M398.40,97.70H396.40M398.40,88.20H395.80M398.40,78.70H396.40M398.40,69.20H395.80M398.40,59.70H396.40M398.40,50.20H395.80M398.40,40.70H396.40M398.40,31.20H395.80M398.40,21.70H396.40M398.40,12.20H395.80M240.37,164.20V162.20M257.90,164.20V161.60M275.43,164.20V162.20M292.96,164.20V161.60M310.49,164.20V162.20M328.02,164.20V161.60M345.55,164.20V162.20M363.08,164.20V161.60M380.61,164.20V162.20M398.14,164.20V161.60" stroke="#777" stroke-width="0.9" fill="none"/>
<text x="212.60" y="9.10" font-size="8.20" text-anchor="start" fill="#1a1a1a" stroke="#1a1a1a" font-weight="bold">B)</text>
<text x="237.80" y="156.80" font-size="6.80" text-anchor="end" fill="#ff2020" stroke="#ff2020" font-weight="normal" stroke-width="0.12">500</text>
<text x="237.80" y="133.84" font-size="6.80" text-anchor="end" fill="#ff2020" stroke="#ff2020" font-weight="normal" stroke-width="0.12">550</text>
<text x="237.80" y="110.87" font-size="6.80" text-anchor="end" fill="#ff2020" stroke="#ff2020" font-weight="normal" stroke-width="0.12">600</text>
<text x="237.80" y="87.91" font-size="6.80" text-anchor="end" fill="#ff2020" stroke="#ff2020" font-weight="normal" stroke-width="0.12">650</text>
<text x="237.80" y="64.94" font-size="6.80" text-anchor="end" fill="#ff2020" stroke="#ff2020" font-weight="normal" stroke-width="0.12">700</text>
<text x="237.80" y="41.97" font-size="6.80" text-anchor="end" fill="#ff2020" stroke="#ff2020" font-weight="normal" stroke-width="0.12">750</text>
<text x="237.80" y="19.01" font-size="6.80" text-anchor="end" fill="#ff2020" stroke="#ff2020" font-weight="normal" stroke-width="0.12">800</text>
<text x="401.00" y="165.90" font-size="6.80" text-anchor="start" fill="#2a2aff" stroke="#2a2aff" font-weight="normal" stroke-width="0.12">0</text>
<text x="401.00" y="146.90" font-size="6.80" text-anchor="start" fill="#2a2aff" stroke="#2a2aff" font-weight="normal" stroke-width="0.12">10</text>
<text x="401.00" y="127.90" font-size="6.80" text-anchor="start" fill="#2a2aff" stroke="#2a2aff" font-weight="normal" stroke-width="0.12">20</text>
<text x="401.00" y="108.90" font-size="6.80" text-anchor="start" fill="#2a2aff" stroke="#2a2aff" font-weight="normal" stroke-width="0.12">30</text>
<text x="401.00" y="89.90" font-size="6.80" text-anchor="start" fill="#2a2aff" stroke="#2a2aff" font-weight="normal" stroke-width="0.12">40</text>
<text x="401.00" y="70.90" font-size="6.80" text-anchor="start" fill="#2a2aff" stroke="#2a2aff" font-weight="normal" stroke-width="0.12">50</text>
<text x="401.00" y="51.90" font-size="6.80" text-anchor="start" fill="#2a2aff" stroke="#2a2aff" font-weight="normal" stroke-width="0.12">60</text>
<text x="401.00" y="32.90" font-size="6.80" text-anchor="start" fill="#2a2aff" stroke="#2a2aff" font-weight="normal" stroke-width="0.12">70</text>
<text x="401.00" y="13.90" font-size="6.80" text-anchor="start" fill="#2a2aff" stroke="#2a2aff" font-weight="normal" stroke-width="0.12">80</text>
<text x="257.90" y="172.30" font-size="6.90" text-anchor="middle" fill="#1a1a1a" stroke="#1a1a1a" font-weight="normal" stroke-width="0.12">0</text>
<text x="292.96" y="172.30" font-size="6.90" text-anchor="middle" fill="#1a1a1a" stroke="#1a1a1a" font-weight="normal" stroke-width="0.12">2</text>
<text x="328.02" y="172.30" font-size="6.90" text-anchor="middle" fill="#1a1a1a" stroke="#1a1a1a" font-weight="normal" stroke-width="0.12">4</text>
<text x="363.08" y="172.30" font-size="6.90" text-anchor="middle" fill="#1a1a1a" stroke="#1a1a1a" font-weight="normal" stroke-width="0.12">6</text>
<text x="398.14" y="172.30" font-size="6.90" text-anchor="middle" fill="#1a1a1a" stroke="#1a1a1a" font-weight="normal" stroke-width="0.12">8</text>
<text x="319.60" y="180.90" font-size="7.30" text-anchor="middle" fill="#1a1a1a" stroke="#1a1a1a" font-weight="normal">CdS layer (monolayer)</text>
<text transform="translate(218.8,86.7) rotate(-90)" font-size="7.26" text-anchor="middle" fill="#ff2020" stroke="#ff2020">PL peak wavelength (nm)</text>
<text transform="translate(420.2,89.2) rotate(-90)" font-size="7.0" text-anchor="middle" fill="#2a2aff" stroke="#2a2aff">QY (%)</text>
<text x="246.50" y="20.20" font-size="6.85" text-anchor="start" fill="#1a1a1a" stroke="#1a1a1a" font-weight="normal">CdTe/CdS QDs</text>
<text x="246.50" y="28.00" font-size="6.70" text-anchor="start" fill="#1a1a1a" stroke="#1a1a1a" font-weight="normal">exc 405 nm</text>
</g>
<rect x="255.80" y="155.90" width="4.2" height="4.2" fill="#ff0000"/>
<rect x="273.33" y="125.20" width="4.2" height="4.2" fill="#ff0000"/>
<rect x="290.86" y="96.00" width="4.2" height="4.2" fill="#ff0000"/>
<rect x="308.39" y="71.00" width="4.2" height="4.2" fill="#ff0000"/>
<rect x="343.45" y="37.70" width="4.2" height="4.2" fill="#ff0000"/>
<rect x="378.51" y="14.90" width="4.2" height="4.2" fill="#ff0000"/>
<path d="M257.90,105.60 L260.35,109.50 L255.45,109.50 Z" fill="#0000ff"/>
<path d="M275.43,54.40 L277.88,58.30 L272.98,58.30 Z" fill="#0000ff"/>
<path d="M292.96,27.00 L295.41,30.90 L290.51,30.90 Z" fill="#0000ff"/>
<path d="M310.49,92.10 L312.94,96.00 L308.04,96.00 Z" fill="#0000ff"/>
<path d="M345.55,128.30 L348.00,132.20 L343.10,132.20 Z" fill="#0000ff"/>
<path d="M380.61,146.80 L383.06,150.70 L378.16,150.70 Z" fill="#0000ff"/>
<line x1="251" y1="125.3" x2="268.5" y2="125.3" stroke="#ff4040" stroke-width="0.75"/>
<path d="M247.8,125.3 L252.4,123.9 L252.4,126.7 Z" fill="#ff0000"/>
<line x1="350.2" y1="129.0" x2="389" y2="129.0" stroke="#5050ff" stroke-width="0.9"/>
<path d="M392.6,129.0 L388.2,127.6 L388.2,130.4 Z" fill="#0000ff"/>
</svg>
</body></html>
